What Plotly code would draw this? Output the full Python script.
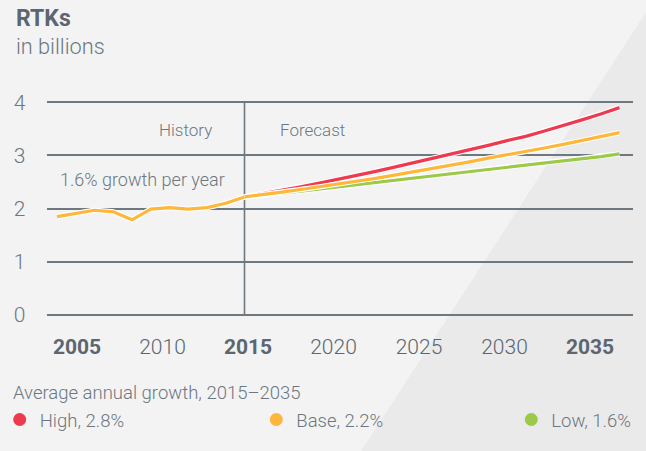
import plotly.graph_objects as go

# ---- data -------------------------------------------------------------
hist_years = list(range(2005, 2016))
hist_rtk = [1.85, 1.91, 1.97, 1.94, 1.79, 1.99, 2.02, 1.99, 2.02, 2.10, 2.22]

fc_years = list(range(2015, 2036))
high_rtk = [2.22, 2.28, 2.35, 2.41, 2.48, 2.55, 2.62, 2.70, 2.78, 2.86, 2.94,
            3.02, 3.10, 3.19, 3.28, 3.36, 3.46, 3.56, 3.67, 3.78, 3.90]
base_rtk = [2.22, 2.26, 2.31, 2.36, 2.41, 2.46, 2.52, 2.57, 2.63, 2.69, 2.76,
            2.82, 2.88, 2.95, 3.01, 3.07, 3.14, 3.21, 3.28, 3.35, 3.43]
low_rtk = [2.22, 2.25, 2.29, 2.33, 2.37, 2.41, 2.45, 2.49, 2.53, 2.57, 2.61,
           2.65, 2.69, 2.73, 2.77, 2.82, 2.86, 2.90, 2.94, 2.98, 3.03]

scenario_labels = ["High, 2.8%", "Base, 2.2%", "Low, 1.6%"]

tick_years = [2005, 2010, 2015, 2020, 2025, 2030, 2035]
tick_text = ["<b>2005</b>", "2010", "<b>2015</b>", "2020", "2025", "2030", "<b>2035</b>"]
y_ticks = [0, 1, 2, 3, 4]

# ---- styling ----------------------------------------------------------
W, H = 646, 451
BG = "#F3F3F3"
BAND = "#EAEAEA"
GRID = "#6E7881"
TXT = "#6C7780"
DARK = "#5B6670"
RED = "#EE3A4F"
ORANGE = "#FDB73A"
GREEN = "#9DC94A"
FONT = "Roboto"


def fx(px):
    return px / W


def fy(py):
    return 1 - py / H


# plot-area pixel geometry
left_px, right_px = 46.7, 633.0
y0_px, y4_px = 315.0, 102.3
unit = (y0_px - y4_px) / 4
pad = 0.05
bottom_px = y0_px + pad * unit
top_px = y4_px - pad * unit

# data axis: 2005 -> 57 px, 2035 -> 619.5 px
d0, d_scale = 57.0, (619.5 - 57.0) / 30
xr = [2005 + (left_px - d0) / d_scale, 2005 + (right_px - d0) / d_scale]
# tick-label axis: 2005 -> 77 px, 2035 -> 590 px
l0, l_scale = 77.0, (590.0 - 77.0) / 30
xr2 = [2005 + (left_px - l0) / l_scale, 2005 + (right_px - l0) / l_scale]

fig = go.Figure()


def add_line(x, y, color, name):
    fig.add_trace(go.Scatter(x=x, y=y, mode="lines", showlegend=False,
                             line=dict(color="white", width=5.5),
                             hoverinfo="skip"))
    fig.add_trace(go.Scatter(x=x, y=y, mode="lines", name=name, showlegend=False,
                             line=dict(color=color, width=3.2)))


add_line(fc_years, low_rtk, GREEN, scenario_labels[2])
add_line(fc_years, high_rtk, RED, scenario_labels[0])
add_line(fc_years, base_rtk, ORANGE, scenario_labels[1])
add_line(hist_years, hist_rtk, ORANGE, "History")

# one legend per scenario so the three entries can sit far apart on one row
legend_keys = ["legend", "legend2", "legend3"]
dot_px = [21.7, 278.3, 533.3]
for lbl, col, key in zip(scenario_labels, [RED, ORANGE, GREEN], legend_keys):
    fig.add_trace(go.Scatter(x=[None], y=[None], mode="markers", name=lbl, legend=key,
                             marker=dict(color=col, size=13, line=dict(width=0))))

# carrier for the year-label axis
fig.add_trace(go.Scatter(x=[None], y=[None], xaxis="x2", yaxis="y",
                         mode="markers", showlegend=False, hoverinfo="skip"))

legend_font = dict(size=18.5, color=TXT, family=FONT, weight=300)
legends = {}
for key, dpx in zip(legend_keys, dot_px):
    legends[key] = dict(x=fx(dpx - 22), xanchor="left", y=fy(420), yanchor="middle",
                        orientation="h", itemsizing="trace", bgcolor="rgba(0,0,0,0)",
                        font=legend_font)

fig.update_layout(
    width=W, height=H,
    margin=dict(l=0, r=0, t=0, b=0, autoexpand=False),
    paper_bgcolor=BG, plot_bgcolor="rgba(0,0,0,0)",
    font=dict(family=FONT, color=TXT, weight=300),
    xaxis=dict(domain=[fx(left_px), fx(right_px)], range=xr, automargin=False,
               showgrid=False, zeroline=False, showline=False,
               showticklabels=False, fixedrange=True),
    xaxis2=dict(domain=[fx(left_px), fx(right_px)], range=xr2, automargin=False,
                overlaying="x", anchor="y", side="bottom",
                tickvals=tick_years, ticktext=tick_text,
                ticks="outside", ticklen=10, tickcolor="rgba(0,0,0,0)",
                tickfont=dict(size=21, color=DARK, family=FONT, weight=300),
                showgrid=False, zeroline=False, showline=False),
    yaxis=dict(domain=[fy(bottom_px), fy(top_px)], range=[-pad, 4 + pad],
               automargin=False, tickvals=y_ticks,
               showgrid=True, gridcolor=GRID, gridwidth=1.6,
               zeroline=False, showline=False,
               ticks="outside", ticklen=16, tickcolor="rgba(0,0,0,0)",
               tickfont=dict(size=21, color=TXT, family=FONT, weight=300)),
    showlegend=True,
    **legends,
)

# diagonal background band
fig.add_shape(type="path", xref="paper", yref="paper", layer="below",
              path=f"M {fx(654)} {fy(0)} L {fx(W)} {fy(0)} L {fx(W)} {fy(H)} L {fx(361)} {fy(H)} Z",
              fillcolor=BAND, line=dict(width=0))

# history / forecast divider
fig.add_shape(type="line", xref="x", yref="y", x0=2015, x1=2015, y0=0, y1=4,
              line=dict(color=GRID, width=1.6), layer="below")

ann = dict(showarrow=False, font=dict(family=FONT, size=17, color=TXT, weight=300))
fig.add_annotation(x=2015, y=3.48, xref="x", yref="y", text="History",
                   xanchor="right", xshift=-31, **ann)
fig.add_annotation(x=2015, y=3.48, xref="x", yref="y", text="Forecast",
                   xanchor="left", xshift=33, **ann)
fig.add_annotation(x=2005, y=2.54, xref="x", yref="y", text="1.6% growth per year",
                   xanchor="left", xshift=1, showarrow=False,
                   font=dict(family=FONT, size=18, color=TXT, weight=300))

fig.add_annotation(x=fx(11), y=fy(393), xref="paper", yref="paper",
                   text="Average annual growth, 2015\u20132035",
                   xanchor="left", yanchor="middle", showarrow=False, font=legend_font)

fig.add_annotation(x=fx(14), y=fy(19), xref="paper", yref="paper", text="<b>RTKs</b>",
                   xanchor="left", yanchor="middle", showarrow=False,
                   font=dict(family=FONT, size=23, color=DARK, weight=700))
fig.add_annotation(x=fx(14), y=fy(46), xref="paper", yref="paper", text="in billions",
                   xanchor="left", yanchor="middle", showarrow=False,
                   font=dict(family=FONT, size=21.7, color=TXT, weight=300))

fig.write_html("out.html")
